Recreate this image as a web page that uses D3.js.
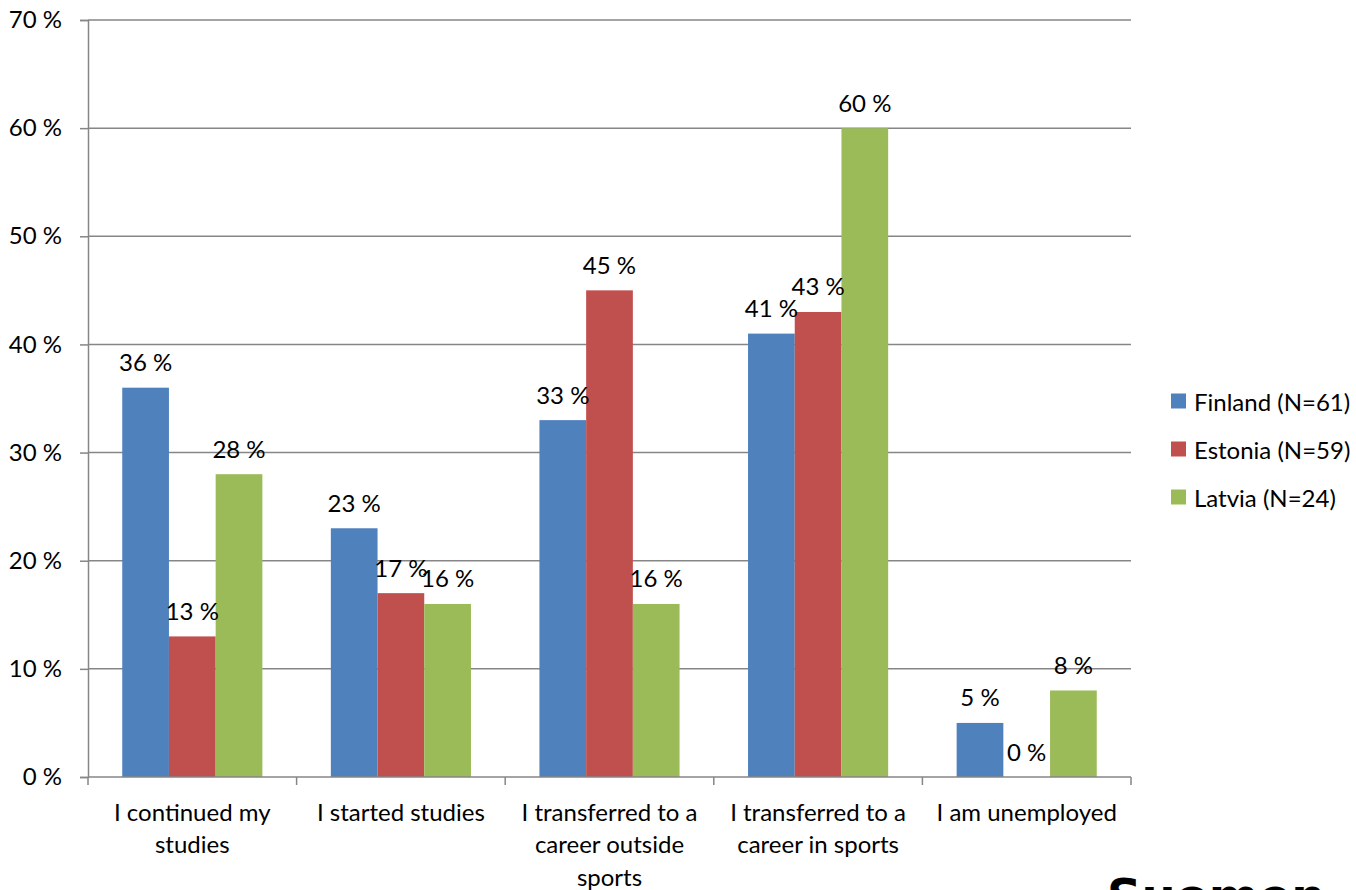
<!DOCTYPE html>
<html>
<head>
<meta charset="utf-8">
<script src="https://cdn.jsdelivr.net/npm/d3@7"></script>
<style>
  html, body { margin: 0; padding: 0; background: #fff; }
  svg { display: block; }
  text { font-family: Lato, "Open Sans", sans-serif; fill: #000; }
</style>
</head>
<body>
<svg id="chart" width="1356" height="890"></svg>
<script>
// Categories (each entry is the label lines under the x axis)
const categories = [
  ["I continued my", "studies"],
  ["I started studies"],
  ["I transferred to a", "career outside", "sports"],
  ["I transferred to a", "career in sports"],
  ["I am unemployed"]
];
const seriesNames = ["Finland (N=61)", "Estonia (N=59)", "Latvia (N=24)"];
const finland = [36, 23, 33, 41, 5];
const estonia = [13, 17, 45, 43, 0];
const latvia  = [28, 16, 16, 60, 8];
const seriesColors = ["#4F81BD", "#C0504D", "#9BBB59"];
const yTicks = [0, 10, 20, 30, 40, 50, 60, 70];

const series = [finland, estonia, latvia];

const svg = d3.select("#chart");
const plotLeft = 88, plotRight = 1131, plotTop = 20, plotBottom = 777;

const x0 = d3.scaleBand()
  .domain(d3.range(categories.length))
  .range([plotLeft, plotRight])
  .paddingInner(0)
  .paddingOuter(0);

const x1 = d3.scaleBand()
  .domain(d3.range(series.length))
  .range([0, x0.bandwidth()])
  .paddingInner(0)
  .paddingOuter(0.733);

const y = d3.scaleLinear().domain([0, 70]).range([plotBottom, plotTop]);

const axisColor = "#868686";
const fontSize = 24;

// Horizontal gridlines
svg.append("g")
  .selectAll("line")
  .data(yTicks.filter(t => t > 0))
  .join("line")
  .attr("x1", plotLeft).attr("x2", plotRight)
  .attr("y1", d => y(d)).attr("y2", d => y(d))
  .attr("stroke", axisColor).attr("stroke-width", 1.5);

// Y axis
const yAxis = d3.axisLeft(y)
  .tickValues(yTicks)
  .tickSize(8)
  .tickPadding(18)
  .tickFormat(d => d + " %");
const gy = svg.append("g").attr("transform", `translate(${plotLeft},0)`).call(yAxis);
gy.select(".domain").attr("stroke", axisColor).attr("stroke-width", 1.5);
gy.selectAll(".tick line").attr("stroke", axisColor).attr("stroke-width", 1.5);
gy.selectAll(".tick text")
  .style("font-family", "Lato, 'Open Sans', sans-serif")
  .style("font-size", fontSize + "px")
  .attr("fill", "#000");

// Bars
const groups = svg.append("g")
  .selectAll("g")
  .data(categories.map((c, i) => i))
  .join("g")
  .attr("transform", i => `translate(${x0(i)},0)`);

groups.selectAll("rect")
  .data(i => series.map((s, k) => ({ k, v: s[i] })))
  .join("rect")
  .attr("x", d => x1(d.k))
  .attr("width", x1.bandwidth())
  .attr("y", d => y(d.v))
  .attr("height", d => y(0) - y(d.v))
  .attr("fill", d => seriesColors[d.k]);

// Value labels above bars
groups.selectAll("text.val")
  .data(i => series.map((s, k) => ({ k, v: s[i] })))
  .join("text")
  .attr("class", "val")
  .attr("x", d => x1(d.k) + x1.bandwidth() / 2)
  .attr("y", d => y(d.v) - 26)
  .attr("text-anchor", "middle")
  .attr("dominant-baseline", "central")
  .style("font-size", fontSize + "px")
  .text(d => d.v + " %");

// X axis line and ticks
const xTicks = d3.range(categories.length + 1).map(i => plotLeft + i * x0.bandwidth());
svg.append("line")
  .attr("x1", plotLeft).attr("x2", plotRight)
  .attr("y1", plotBottom).attr("y2", plotBottom)
  .attr("stroke", axisColor).attr("stroke-width", 1.5);
svg.append("g")
  .selectAll("line")
  .data(xTicks)
  .join("line")
  .attr("x1", d => d).attr("x2", d => d)
  .attr("y1", plotBottom).attr("y2", plotBottom + 8)
  .attr("stroke", axisColor).attr("stroke-width", 1.5);

// Category labels
const catLabels = svg.append("g")
  .selectAll("text")
  .data(categories)
  .join("text")
  .attr("x", (d, i) => x0(i) + x0.bandwidth() / 2)
  .attr("text-anchor", "middle")
  .style("font-size", fontSize + "px");
catLabels.selectAll("tspan")
  .data(d => d)
  .join("tspan")
  .attr("x", function () { return this.parentNode.getAttribute("x"); })
  .attr("y", (d, j) => 811 + j * 32.5)
  .attr("dominant-baseline", "central")
  .text(d => d);

// Legend
const legend = svg.append("g")
  .selectAll("g")
  .data(seriesNames)
  .join("g")
  .attr("transform", (d, i) => `translate(1171,${401 + i * 48})`);
legend.append("rect")
  .attr("x", 0).attr("y", -7.5)
  .attr("width", 15).attr("height", 15)
  .attr("fill", (d, i) => seriesColors[i]);
legend.append("text")
  .attr("x", 23).attr("y", 0)
  .attr("dominant-baseline", "central")
  .style("font-size", fontSize + "px")
  .text(d => d);

// Heading running off the bottom edge of the slide
svg.append("text")
  .attr("x", 1107).attr("y", 913)
  .style("font-family", "'DejaVu Sans', sans-serif")
  .style("font-weight", "bold")
  .style("font-size", "48px")
  .text("Suomen");
</script>
</body>
</html>
